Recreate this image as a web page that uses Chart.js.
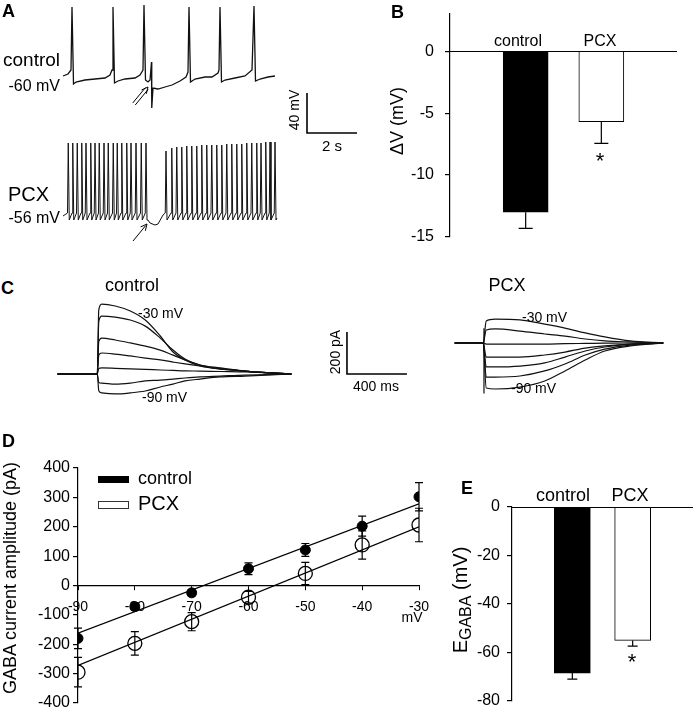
<!DOCTYPE html>
<html>
<head>
<meta charset="utf-8">
<script src="https://cdn.jsdelivr.net/npm/chart.js@4.4.0/dist/chart.umd.min.js"></script>
<style>
body { margin: 0; background: #fff; overflow: hidden; }
#fig { position: relative; width: 693px; height: 709px; font-family: "Liberation Sans", Arial, sans-serif; color: #000; }
#fig canvas { position: absolute; }
.t { position: absolute; white-space: nowrap; line-height: 1; }
</style>
</head>
<body>
<div id="fig">
    <canvas id="chartA" width="380" height="270" style="left:0;top:0"></canvas>
    <canvas id="chartB" width="313" height="260" style="left:380px;top:0"></canvas>
    <canvas id="chartCctrl" width="380" height="120" style="left:40px;top:290px"></canvas>
    <canvas id="chartCpcx" width="253" height="120" style="left:440px;top:290px"></canvas>
    <canvas id="chartD" width="470" height="310" style="left:0;top:410px"></canvas>
    <canvas id="chartE" width="238" height="250" style="left:455px;top:470px"></canvas>
</div>
<script>
// ---- A: membrane potential traces (time in s, mV) ----
const ctrlTraceT = [0, 0.2, 0.32, 0.36, 0.42, 0.52, 0.88, 1.28, 1.68, 1.88,
    1.96, 2.0, 2.06, 2.2, 2.48, 2.88, 3.08, 3.2, 3.24, 3.3,
    3.4, 3.48, 3.54, 3.55, 3.6, 3.8, 4.08, 4.36, 4.68, 4.92,
    5.0, 5.04, 5.1, 5.28, 5.68, 5.96, 6.2, 6.24, 6.28, 6.34,
    6.48, 6.88, 7.28, 7.56, 7.64, 7.7, 7.88, 8.2, 8.48];
const ctrlTraceV = [-58, -56, -52, 11, -66, -64, -62, -61, -60, -57,
    -52, 11, -65, -63, -61, -60, -57, -52, 13, -62,
    -64, -62, -44, -90, -70, -71, -69, -67, -63, -59,
    -54, 11, -64, -61, -59, -59, -55, -52, 11, -64,
    -62, -60, -58, -52, 12, -63, -61, -59, -58];
const pcxSpikeT = [0.21, 0.39, 0.57, 0.75, 0.92, 1.11, 1.28, 1.45, 1.64, 1.81, 2.01, 2.17, 2.35, 2.55, 2.72, 2.92, 3.13, 3.32,
    4.12, 4.35, 4.55, 4.75, 4.95, 5.15, 5.35, 5.55, 5.75, 5.95, 6.15, 6.35, 6.55, 6.75, 6.95, 7.15, 7.35, 7.55, 7.75, 7.92, 8.11, 8.28, 8.48];
const pcxSpikeV = [19, 19, 19, 19, 19, 19, 19, 19, 19, 19, 19, 19, 19, 19, 19, 19, 19, 19,
    11, 14, 15, 15, 16, 16, 16, 17, 17, 17, 17, 17, 18, 18, 18, 18, 19, 19, 19, 19, 20, 20, 20];
const pcxThreshold = -51;
const pcxTrough = -58;
const pcxPauseT = [3.40, 3.48, 3.68, 3.80, 4.00];
const pcxPauseV = [-58, -61, -63, -62, -53];
const pcxStartEnd = [[0, -54], [8.56, -56]];

// ---- B: delta V ----
const groups = ['control', 'PCX'];
const dvMeans = [-13, -5.7];
const dvErr = [1.3, 1.75];

// ---- C: GABA currents (ms, pA) ----
const stepLabels = ['-30 mV', '-90 mV'];
const ctrlCurT = [-270, -5, 5, 25, 115, 215, 315, 415, 500, 580, 680, 815, 980, 1290];
const ctrlCurrents = [
    [0, 0, 305, 333, 324, 300, 257, 181, 105, 67, 38, 24, 14, 0],
    [0, 0, 250, 276, 271, 257, 228, 171, 114, 71, 43, 24, 14, 0],
    [0, 0, 155, 171, 162, 148, 133, 114, 90, 67, 43, 29, 14, 0],
    [0, 0, 90, 100, 95, 86, 76, 67, 57, 48, 38, 24, 14, 0],
    [0, 0, 26, 29, 27, 24, 22, 19, 17, 15, 14, 12, 10, 0],
    [0, 0, -40, -43, -48, -43, -33, -29, -24, -19, -14, -10, -5, 0],
    [0, 0, -80, -90, -95, -90, -81, -62, -48, -33, -24, -14, -10, 0]
];
const pcxCurT = [-195, -5, 15, 75, 240, 405, 540, 675, 805, 975, 1195];
const pcxCurrents = [
    [0, 0, 105, 114, 110, 90, 71, 48, 29, 10, 0],
    [0, 0, 62, 67, 57, 43, 33, 19, 10, 5, 0],
    [0, 0, -5, -5, -5, -5, -3, -2, -1, 0, 0],
    [0, 0, -67, -67, -67, -57, -43, -24, -14, -5, 0],
    [0, 0, -114, -114, -110, -95, -67, -38, -19, -5, 0],
    [0, 0, -162, -162, -157, -133, -100, -57, -29, -10, 0],
    [0, 0, -214, -219, -210, -181, -133, -81, -38, -14, 0]
];
const pcxArtifactT = [0, 0];
const pcxArtifactV = [70, -240];

// ---- D: I-V relation ----
const ivVolt = [-90, -80, -70, -60, -50, -40, -30];
const ivCtrl = [-180, -72, -25, 57, 121, 202, 302];
const ivCtrlErr = [35, 13, 10, 20, 22, 34, 48];
const ivPcx = [-295, -197, -123, -40, 41, 138, 206];
const ivPcxErr = [50, 40, 31, 20, 38, 48, 57];
const fitVolt = [-90, -30];
const fitCtrl = [-162, 278];
const fitPcx = [-272, 200];

// ---- E: E_GABA ----
const egabaMeans = [-68.5, -55];
const egabaErr = [2.5, 2.4];

const FONT = '"Liberation Sans", Arial, sans-serif';
Chart.defaults.font.family = FONT;
Chart.defaults.color = '#000';
Chart.defaults.animation = false;
Chart.defaults.events = [];
Chart.defaults.plugins.legend.display = false;
Chart.defaults.plugins.tooltip.enabled = false;

const fig = document.getElementById('fig');

function addText(txt, x, y, size, align, opts) {
    const d = document.createElement('div');
    d.className = 't';
    d.innerHTML = txt;
    d.style.left = x + 'px';
    d.style.top = y + 'px';
    d.style.fontSize = size + 'px';
    const tx = align === 'left' ? '0' : align === 'right' ? '-100%' : '-50%';
    let tf = `translate(${tx},-50%)`;
    if (opts && opts.rotate) tf = 'translate(-50%,-50%) rotate(-90deg)';
    if (opts && opts.bold) d.style.fontWeight = 'bold';
    d.style.transform = tf;
    fig.appendChild(d);
    return d;
}

function series(ts, vs) {
    return ts.map((t, i) => ({ x: t, y: vs[i] }));
}

function pcxTracePoints() {
    const pts = [{ x: pcxStartEnd[0][0], y: pcxStartEnd[0][1] }];
    pcxSpikeT.forEach((t, i) => {
        if (i === 18) pcxPauseT.forEach((pt, j) => pts.push({ x: pt, y: pcxPauseV[j] }));
        pts.push({ x: t - 0.03, y: pcxThreshold }, { x: t, y: pcxSpikeV[i] }, { x: t + 0.04, y: pcxTrough });
    });
    pts.push({ x: pcxStartEnd[1][0], y: pcxStartEnd[1][1] });
    return pts;
}

// scale bars and stimulus arrows on the trace panels
const traceExtras = {
    id: 'traceExtras',
    afterDatasetsDraw(chart, args, opts) {
        const ctx = chart.ctx;
        const xs = chart.scales.x;
        ctx.save();
        ctx.strokeStyle = '#000';
        if (opts.bar) {
            const b = opts.bar;
            const ys = chart.scales[b.axis];
            const x0 = xs.getPixelForValue(b.x), x1 = xs.getPixelForValue(b.x + b.dx);
            const y0 = ys.getPixelForValue(b.y), y1 = ys.getPixelForValue(b.y + b.dy);
            ctx.lineWidth = 1.6;
            ctx.beginPath();
            ctx.moveTo(x0, y1);
            ctx.lineTo(x0, y0);
            ctx.lineTo(x1, y0);
            ctx.stroke();
        }
        (opts.arrows || []).forEach(a => {
            const ys = chart.scales[a.axis];
            const tx = xs.getPixelForValue(a.x), ty = ys.getPixelForValue(a.y);
            const dx = -14, dy = 17;
            const len = Math.hypot(dx, dy);
            const ux = dx / len, uy = dy / len;
            ctx.lineWidth = 1;
            const offs = a.double ? [-1.6, 1.6] : [0];
            offs.forEach(o => {
                ctx.beginPath();
                ctx.moveTo(tx - uy * o + ux * 2, ty + ux * o + uy * 2);
                ctx.lineTo(tx + dx - uy * o, ty + dy + ux * o);
                ctx.stroke();
            });
            const ang = Math.atan2(uy, ux);
            ctx.beginPath();
            ctx.moveTo(tx + 7 * Math.cos(ang - 0.45), ty + 7 * Math.sin(ang - 0.45));
            ctx.lineTo(tx, ty);
            ctx.lineTo(tx + 7 * Math.cos(ang + 0.45), ty + 7 * Math.sin(ang + 0.45));
            ctx.stroke();
        });
        ctx.restore();
    }
};

// error bars (and the zero line for the bar panels)
function drawErrors(chart, opts) {
    const ctx = chart.ctx;
    const xs = chart.scales.x, ys = chart.scales.y;
    ctx.save();
    ctx.strokeStyle = '#000';
    ctx.lineWidth = 1.2;
    if (opts.zeroLine) {
        const y0 = Math.round(ys.getPixelForValue(0)) + 0.5;
        ctx.beginPath();
        ctx.moveTo(chart.chartArea.left, y0);
        ctx.lineTo(chart.chartArea.right, y0);
        ctx.stroke();
    }
    opts.sets.forEach(s => {
        s.x.forEach((xv, i) => {
            const px = xs.getPixelForValue(xv);
            const lo = ys.getPixelForValue(s.y[i] - s.err[i]);
            const hi = s.down ? ys.getPixelForValue(s.y[i]) : ys.getPixelForValue(s.y[i] + s.err[i]);
            ctx.beginPath();
            ctx.moveTo(px, lo);
            ctx.lineTo(px, hi);
            ctx.moveTo(px - s.cap, lo);
            ctx.lineTo(px + s.cap, lo);
            if (!s.down) {
                ctx.moveTo(px - s.cap, hi);
                ctx.lineTo(px + s.cap, hi);
            }
            ctx.stroke();
        });
    });
    ctx.restore();
}
const errorBars = {
    id: 'errorBars',
    beforeDatasetsDraw(chart, args, opts) { if (opts.under) drawErrors(chart, opts); },
    afterDatasetsDraw(chart, args, opts) { if (!opts.under) drawErrors(chart, opts); }
};

const hidden = { type: 'linear', display: false };
const traceLine = { showLine: true, pointRadius: 0, borderColor: '#111', borderWidth: 1.2 };

// ---------------- A ----------------
new Chart(document.getElementById('chartA'), {
    type: 'scatter',
    data: {
        datasets: [
            Object.assign({ data: series(ctrlTraceT, ctrlTraceV), yAxisID: 'yc' }, traceLine, { borderWidth: 1.3 }),
            Object.assign({ data: pcxTracePoints(), yAxisID: 'yp' }, traceLine, { borderWidth: 1 })
        ]
    },
    options: {
        responsive: false,
        devicePixelRatio: 1,
        layout: { padding: 0 },
        scales: {
            x: Object.assign({ min: -2.52, max: 12.68 }, hidden),
            yc: Object.assign({ min: -252, max: 18 }, hidden),
            yp: Object.assign({ min: -108, max: 162 }, hidden)
        },
        plugins: {
            traceExtras: {
                bar: { axis: 'yc', x: 9.76, dx: 2, y: -115, dy: 40 },
                arrows: [
                    { axis: 'yc', x: 3.4, y: -69, double: true },
                    { axis: 'yp', x: 3.36, y: -62, double: false }
                ]
            }
        }
    },
    plugins: [traceExtras]
});

// ---------------- B ----------------
function barChart(id, means, yMin, yMax, step, width, axisWidth, pad, err, tickPad) {
    return new Chart(document.getElementById(id), {
        type: 'bar',
        data: {
            datasets: [{
                data: means.map((m, i) => ({ x: i + 1, y: m })),
                backgroundColor: ['#000', '#fff'],
                borderColor: '#000',
                borderWidth: 1,
                borderSkipped: 'start',
                barThickness: width
            }]
        },
        options: {
            responsive: false,
            devicePixelRatio: 1,
            layout: { padding: pad },
            scales: {
                x: { type: 'linear', display: false, offset: false, min: 0, max: 3 },
                y: {
                    min: yMin, max: yMax,
                    ticks: { stepSize: step, font: { size: 16 }, padding: tickPad, color: '#000' },
                    grid: { drawOnChartArea: false, tickLength: 5, color: '#000', lineWidth: 1.2 },
                    border: { color: '#000', width: 1.2 },
                    afterBuildTicks(s) { s.ticks = s.ticks.filter(t => t.value % step === 0); },
                    afterFit(s) { s.width = axisWidth; s.paddingTop = 0; s.paddingBottom = 0; }
                }
            },
            plugins: {
                errorBars: {
                    zeroLine: true,
                    sets: [{ x: [1, 2], y: means, err: err, cap: width === 45 ? 7 : 5, down: true }]
                }
            }
        },
        plugins: [errorBars]
    });
}
barChart('chartB', dvMeans, -15, 3, 5, 45, 70, { left: 0, right: 16, top: 14, bottom: 23 }, dvErr, 11);

// ---------------- C ----------------
function currentChart(id, ts, curves, xr, yr, extra, bar) {
    const datasets = curves.map(c => Object.assign({
        data: series(ts, c), cubicInterpolationMode: 'monotone'
    }, traceLine));
    if (extra) datasets.push(Object.assign({ data: extra }, traceLine));
    return new Chart(document.getElementById(id), {
        type: 'scatter',
        data: { datasets: datasets },
        options: {
            responsive: false,
            devicePixelRatio: 1,
            layout: { padding: 0 },
            scales: {
                x: Object.assign({ min: xr[0], max: xr[1] }, hidden),
                y: Object.assign({ min: yr[0], max: yr[1] }, hidden)
            },
            plugins: { traceExtras: bar ? { bar: bar } : {} }
        },
        plugins: [traceExtras]
    });
}
currentChart('chartCctrl', ctrlCurT, ctrlCurrents, [-387, 2147], [-171.4, 400], null,
    { axis: 'y', x: 1660, dx: 400, y: 0, dy: 200 });
currentChart('chartCpcx', pcxCurT, pcxCurrents, [-293, 1393], [-319, 252.4],
    series(pcxArtifactT, pcxArtifactV), null);

// ---------------- D ----------------
new Chart(document.getElementById('chartD'), {
    type: 'scatter',
    data: {
        datasets: [
            { data: series(fitVolt, fitCtrl), showLine: true, pointRadius: 0, borderColor: '#000', borderWidth: 1.3 },
            { data: series(fitVolt, fitPcx), showLine: true, pointRadius: 0, borderColor: '#000', borderWidth: 1.3 },
            { data: series(ivVolt, ivCtrl), pointRadius: 5, pointBackgroundColor: '#000', pointBorderColor: '#000', pointBorderWidth: 1 },
            { data: series(ivVolt, ivPcx), pointRadius: 7, pointBackgroundColor: 'rgba(0,0,0,0)', pointBorderColor: '#000', pointBorderWidth: 1.3 }
        ]
    },
    options: {
        responsive: false,
        devicePixelRatio: 1,
        layout: { padding: { left: 0, right: 51, top: 58, bottom: 17 } },
        scales: {
            x: {
                type: 'linear', position: { y: 0 }, min: -90, max: -30,
                ticks: { stepSize: 10, font: { size: 14 }, padding: 9, color: '#000' },
                grid: { drawOnChartArea: false, tickLength: 4, color: '#000' },
                border: { color: '#000', width: 1.2 }
            },
            y: {
                type: 'linear', min: -400, max: 400,
                ticks: { stepSize: 100, font: { size: 16 }, padding: 3, color: '#000' },
                grid: { drawOnChartArea: false, tickLength: 5, color: '#000', lineWidth: 1.2 },
                border: { color: '#000', width: 1.2 },
                afterFit(s) { s.width = 78; }
            }
        },
        plugins: {
            errorBars: {
                under: true,
                sets: [
                    { x: ivVolt, y: ivCtrl, err: ivCtrlErr, cap: 4 },
                    { x: ivVolt, y: ivPcx, err: ivPcxErr, cap: 4 }
                ]
            }
        }
    },
    plugins: [errorBars]
});

// ---------------- E ----------------
barChart('chartE', egabaMeans, -80, 0, 20, 36, 57, { left: 0, right: 0, top: 37, bottom: 19 }, egabaErr, 7);

// ---------------- text ----------------
addText('A', 2, 11, 18, 'left', { bold: true });
addText('B', 391, 12, 18, 'left', { bold: true });
addText('C', 1, 288, 18, 'left', { bold: true });
addText('D', 2, 441, 18, 'left', { bold: true });
addText('E', 461, 488, 18, 'left', { bold: true });

addText(groups[0], 3, 59, 19, 'left');
addText('-60 mV', 60, 86, 16, 'right');
addText(groups[1], 8, 194, 20, 'left');
addText('-56 mV', 60, 218, 16, 'right');
addText('40 mV', 294, 110, 14, 'center', { rotate: true });
addText('2 s', 332, 145, 15, 'center');

addText(groups[0], 518, 41, 16, 'center');
addText(groups[1], 600, 41, 16, 'center');
addText('&Delta;V (mV)', 397, 121, 18, 'center', { rotate: true });
addText('*', 600, 161, 22, 'center');

addText(groups[0], 132, 285, 18, 'center');
addText(stepLabels[0], 138, 313, 14, 'left');
addText(stepLabels[1], 142, 397, 14, 'left');
addText(groups[1], 507, 285, 18, 'center');
addText(stepLabels[0], 522, 317, 14, 'left');
addText(stepLabels[1], 511, 388, 14, 'left');
addText('200 pA', 335, 352, 14, 'center', { rotate: true });
addText('400 ms', 376, 386, 14, 'center');

addText('GABA current amplitude (pA)', 10, 578, 18, 'center', { rotate: true });
addText('mV', 412, 617, 14, 'center');
addText('<span style="display:inline-block;width:31px;height:7px;background:#000;vertical-align:middle;margin-right:9px"></span>' + groups[0], 98, 478, 18, 'left');
addText('<span style="display:inline-block;width:29px;height:6px;border:1px solid #333;vertical-align:middle;margin-right:9px"></span>' + groups[1], 98, 503, 20, 'left');

addText(groups[0], 563, 495, 18, 'center');
addText(groups[1], 630, 495, 18, 'center');
addText('E<span style="font-size:16px;position:relative;top:4px">GABA</span> (mV)', 460, 600, 20, 'center', { rotate: true });
addText('*', 632, 662, 22, 'center');
</script>
</body>
</html>
